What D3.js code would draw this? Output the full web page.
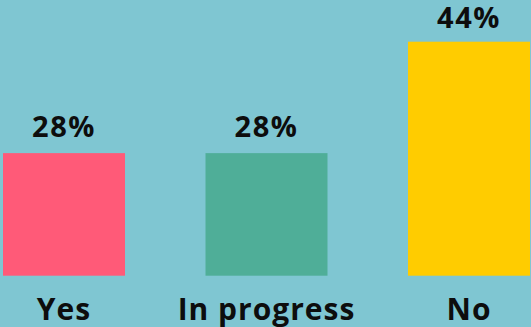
<!DOCTYPE html>
<html>
<head>
<meta charset="utf-8">
<script src="https://cdn.jsdelivr.net/npm/d3@7"></script>
<style>
  html, body { margin: 0; padding: 0; background: #7fc6d2; }
  svg { display: block; }
  text { font-family: "Open Sans", "Noto Sans", sans-serif; font-weight: 700; fill: #0d0d0d; }
</style>
</head>
<body>
<svg id="chart" width="531" height="327"></svg>
<script>
// Survey answers and their shares (percent)
const categories = ["Yes", "In progress", "No"];
const values = [28, 28, 44];
const valueLabels = ["28%", "28%", "44%"];
const colors = ["#ff5a78", "#4fae98", "#ffcc00"];

const width = 531, height = 327;
const fontFamily = "'Open Sans', 'Noto Sans', sans-serif";
const svg = d3.select("#chart");

svg.append("rect")
  .attr("width", width).attr("height", height)
  .attr("fill", "#7fc6d2");

const x = d3.scaleBand()
  .domain(categories)
  .range([3, 530])
  .paddingInner(0.3975)
  .paddingOuter(0);

// Baseline sits above zero so the bars keep their stepped look
const y = d3.scaleLinear()
  .domain([10.4, 44])
  .range([275.7, 41.7]);

const data = categories.map((c, i) => ({ cat: c, value: values[i], label: valueLabels[i], color: colors[i] }));

svg.selectAll("rect.bar")
  .data(data)
  .join("rect")
  .attr("class", "bar")
  .attr("x", d => x(d.cat))
  .attr("width", x.bandwidth())
  .attr("y", d => y(d.value))
  .attr("height", d => y.range()[0] - y(d.value))
  .attr("fill", d => d.color);

// Value labels above each bar, kept clear of the top edge
svg.selectAll("text.value")
  .data(data)
  .join("text")
  .attr("class", "value")
  .attr("x", d => x(d.cat) + x.bandwidth() / 2)
  .attr("y", d => Math.max(y(d.value) - 16.5, 27.5))
  .attr("text-anchor", "middle")
  .style("font-size", "29px")
  .style("letter-spacing", "1.5px")
  .text(d => d.label);

// Category labels along the bottom
const xAxis = svg.append("g")
  .attr("transform", `translate(0, ${y.range()[0]})`)
  .call(d3.axisBottom(x).tickSize(0).tickPadding(0));
xAxis.select(".domain").remove();
xAxis.selectAll("text")
  .attr("y", 44.5)
  .attr("dy", null)
  .style("font-size", "30px")
  .style("font-family", fontFamily)
  .style("font-weight", 700)
  .style("letter-spacing", "1px")
  .attr("fill", "#0d0d0d");
</script>
</body>
</html>
